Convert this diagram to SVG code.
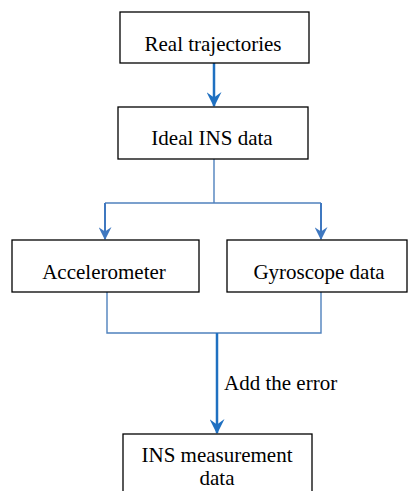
<svg xmlns="http://www.w3.org/2000/svg" width="408" height="491" viewBox="0 0 408 491">
<defs>
<marker id="ah" markerWidth="15" markerHeight="15" refX="13" refY="7" orient="auto" markerUnits="userSpaceOnUse" viewBox="0 0 14 14">
<path d="M0,0 L14,7 L0,14 L5,7 Z" fill="#1f70c1"/>
</marker>
<marker id="ah2" markerWidth="13" markerHeight="13" refX="11" refY="6" orient="auto" markerUnits="userSpaceOnUse" viewBox="0 0 12 12">
<path d="M0,0 L12,6 L0,12 L4,6 Z" fill="#3f78c0"/>
</marker>
</defs>
<style>
.box{fill:#fff;stroke:#000;stroke-width:1.3}
.t{font-family:"Liberation Serif","DejaVu Serif",serif;font-size:21px;fill:#000;text-anchor:middle}
.thick{stroke:#1f70c1;stroke-width:2.5;fill:none}
.thin{stroke:#4f81bd;stroke-width:1.4;fill:none}
.mid{stroke:#3f78c0;stroke-width:2;fill:none}
</style>
<rect width="408" height="491" fill="#fff"/>
<g id="connectors">
<line class="thick" x1="214" y1="63" x2="214" y2="106" marker-end="url(#ah)"/>
<line class="thin" x1="214" y1="159" x2="214" y2="203"/>
<line class="thin" x1="105" y1="203" x2="321" y2="203"/>
<line class="mid" x1="105" y1="203" x2="105" y2="239" marker-end="url(#ah2)"/>
<line class="mid" x1="321" y1="203" x2="321" y2="239" marker-end="url(#ah2)"/>
<polyline class="thin" points="107,292 107,333 321,333 321,292"/>
<line class="thick" x1="217" y1="333" x2="217" y2="433" marker-end="url(#ah)"/>
<text class="t" x="224" y="390" style="text-anchor:start">Add the error</text>
</g>
<g id="real">
<rect class="box" x="120" y="12" width="189" height="51"/>
<text class="t" x="213" y="51">Real trajectories</text>
</g>
<g id="ideal">
<rect class="box" x="118" y="107" width="190" height="52"/>
<text class="t" x="212" y="145">Ideal INS data</text>
</g>
<g id="acc">
<rect class="box" x="12" y="240" width="187" height="52"/>
<text class="t" x="104" y="279">Accelerometer</text>
</g>
<g id="gyro">
<rect class="box" x="227" y="240" width="180" height="52"/>
<text class="t" x="319" y="279">Gyroscope data</text>
</g>
<g id="meas">
<rect class="box" x="123" y="434" width="189" height="70"/>
<text class="t" x="217" y="462">INS measurement</text>
<text class="t" x="217" y="485">data</text>
</g>
</svg>
